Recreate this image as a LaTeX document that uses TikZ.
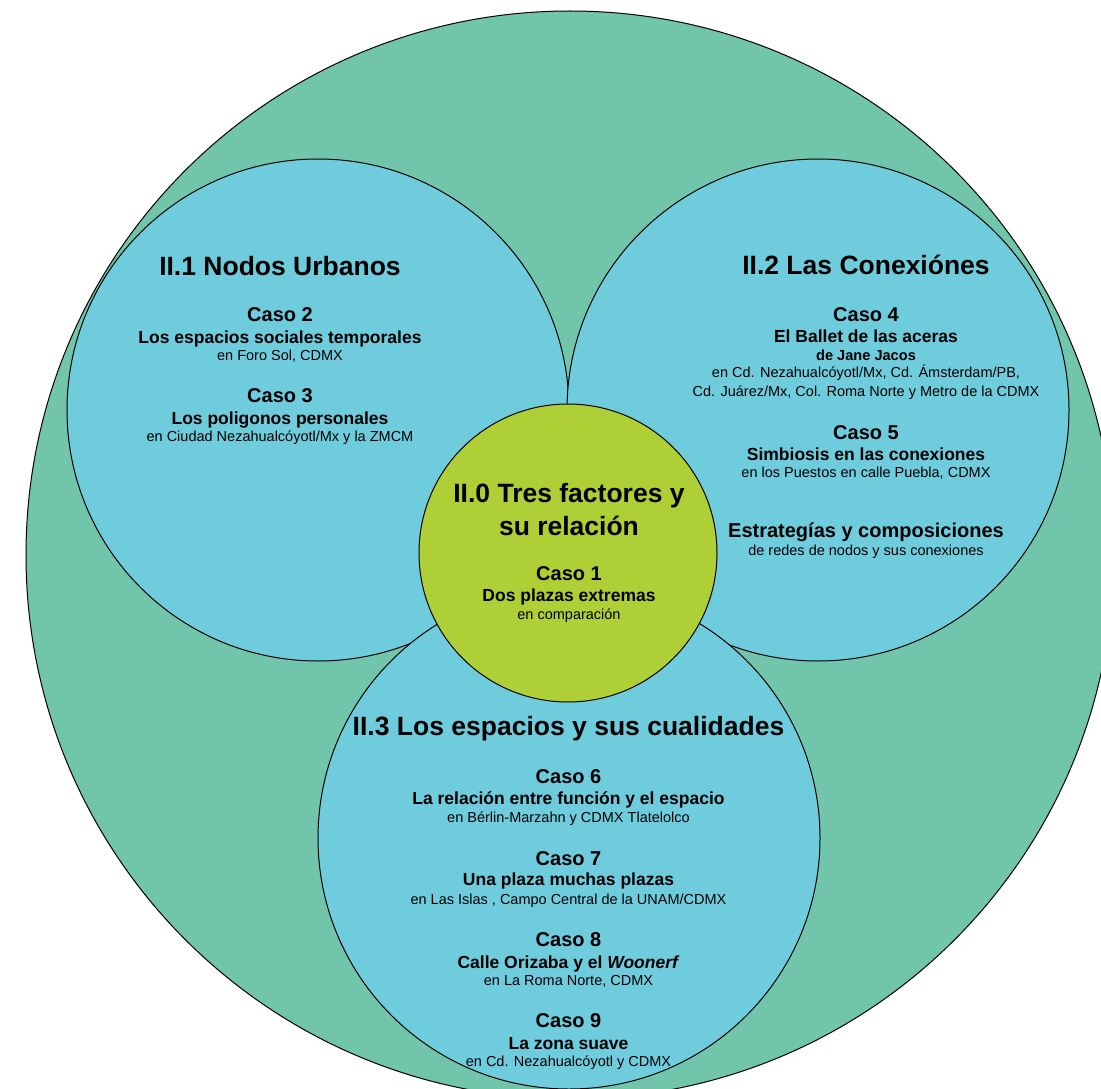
\documentclass[tikz,border=0pt]{standalone}
\usepackage{fontspec}
\setmainfont{Liberation Sans}
\definecolor{outergreen}{RGB}{112,197,170}
\definecolor{innerblue}{RGB}{111,204,221}
\definecolor{coregreen}{RGB}{175,207,55}
\tikzset{
  ring/.style={circle, draw=black, line width=1pt, inner sep=0pt},
  txt/.style={anchor=base, inner sep=0pt, text=black},
  ttl/.style={txt, font=\fontsize{26.5}{30}\selectfont\bfseries},
  caso/.style={txt, font=\fontsize{20}{24}\selectfont\bfseries},
  sub/.style={txt, font=\fontsize{17.5}{21}\selectfont\bfseries},
  subsm/.style={txt, font=\fontsize{14.6}{17}\selectfont\bfseries},
  place/.style={txt, font=\fontsize{14.5}{17}\selectfont},
}
\begin{document}
\begin{tikzpicture}[x=1pt,y=-1pt]
\clip (0,0) rectangle (1101,1089);
\useasboundingbox (0,0) rectangle (1101,1089);
% circles
\node[ring, fill=outergreen, minimum size=1088pt] (outer) at (570,555) {};
\node[ring, fill=innerblue, minimum size=502pt] (nodos) at (318,410) {};
\node[ring, fill=innerblue, minimum size=502pt] (conex) at (818,410) {};
\node[ring, fill=innerblue, minimum size=502pt] (espac) at (569,838) {};
\node[ring, fill=coregreen, minimum size=298pt] (core) at (568,553) {};
% II.1
\node[ttl]   (t1)  at (280,275)   {II.1 Nodos Urbanos};
\node[caso]  (c2)  at (280,321.7) {Caso 2};
\node[sub]   (c2s) at (280,343)   {Los espacios sociales temporales};
\node[place] (c2p) at (280,360.7) {en Foro Sol, CDMX};
\node[caso]  (c3)  at (280,402.7) {Caso 3};
\node[sub]   (c3s) at (280,424)   {Los poligonos personales};
\node[place] (c3p) at (280,441.7) {en Ciudad Nezahualcóyotl/Mx y la ZMCM};
% II.2
\node[ttl]   (t2)  at (866,274.3) {II.2 Las Conexiónes};
\node[caso]  (c4)  at (866,321.7) {Caso 4};
\node[sub]   (c4s) at (866,342.7) {El Ballet de las aceras};
\node[subsm] (c4j) at (866,360.7) {de Jane Jacos};
\node[place] (c4p) at (866,377.7) {en Cd. Nezahualcóyotl/Mx, Cd. Ámsterdam/PB,};
\node[place] (c4q) at (866,396)   {Cd. Juárez/Mx, Col. Roma Norte y Metro de la CDMX};
\node[caso]  (c5)  at (866,439)   {Caso 5};
\node[sub]   (c5s) at (866,460)   {Simbiosis en las conexiones};
\node[place] (c5p) at (866,477.7) {en los Puestos en calle Puebla, CDMX};
\node[caso]  (es)  at (866,537.7) {Estrategías y composiciones};
\node[place] (esp) at (866,555.7) {de redes de nodos y sus conexiones};
% II.0
\node[ttl]   (t0a) at (569,502.7) {II.0 Tres factores y};
\node[ttl]   (t0b) at (569,535)   {su relación};
\node[caso]  (c1)  at (569,580.7) {Caso 1};
\node[sub]   (c1s) at (569,601.7) {Dos plazas extremas};
\node[place] (c1p) at (569,619.3) {en comparación};
% II.3
\node[ttl]   (t3)  at (568.5,735.7) {II.3 Los espacios y sus cualidades};
\node[caso]  (c6)  at (568.5,783.3) {Caso 6};
\node[sub]   (c6s) at (568.5,804.3) {La relación entre función y el espacio};
\node[place] (c6p) at (568.5,822)   {en Bérlin-Marzahn y CDMX Tlatelolco};
\node[caso]  (c7)  at (568.5,865)   {Caso 7};
\node[sub]   (c7s) at (568.5,885.7) {Una plaza muchas plazas};
\node[place] (c7p) at (568.5,904)   {en Las Islas , Campo Central de la UNAM/CDMX};
\node[caso]  (c8)  at (568.5,946)   {Caso 8};
\node[sub]   (c8s) at (568.5,968.3) {Calle Orizaba y el \textit{Woonerf}};
\node[place] (c8p) at (568.5,985)   {en La Roma Norte, CDMX};
\node[caso]  (c9)  at (568.5,1027.7) {Caso 9};
\node[sub]   (c9s) at (568.5,1049)  {La zona suave};
\node[place] (c9p) at (568.5,1066.7) {en Cd. Nezahualcóyotl y CDMX};
\end{tikzpicture}
\end{document}
